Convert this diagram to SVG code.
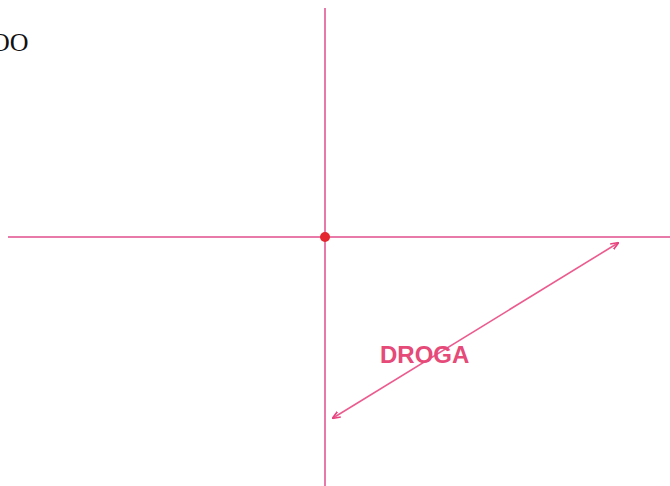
<svg xmlns="http://www.w3.org/2000/svg" width="670" height="486" viewBox="0 0 670 486">
<defs>
<style>
.axis{stroke:#e77aa9;stroke-width:2;fill:none}
.dim{stroke:#ec5b8e;stroke-width:1.6;fill:none}
.lbl{font-family:"Liberation Sans",Arial,sans-serif;font-size:24px;font-weight:bold;fill:#e54a78}
.ttl{font-family:"Liberation Serif","Times New Roman",serif;font-size:26px;fill:#111}
</style>
<marker id="ah" viewBox="0 0 10 10" refX="9" refY="5" markerWidth="8" markerHeight="8" orient="auto-start-reverse" markerUnits="userSpaceOnUse">
<path d="M0,1 L10,5 L0,9" fill="none" stroke="#e8437e" stroke-width="2"/>
</marker>
</defs>
<rect width="670" height="486" fill="#fff"/>
<text class="ttl" x="-9" y="51">OO</text>
<g id="axes">
<line id="axis-v" class="axis" x1="325" y1="8" x2="325" y2="486"/>
<line id="axis-h" class="axis" x1="8" y1="237" x2="670" y2="237"/>
</g>
<g id="origin"><circle cx="325" cy="237" r="5" fill="#e3262f"/></g>
<g id="connectors">
<line class="dim" x1="333" y1="418" x2="618" y2="243" marker-start="url(#ah)" marker-end="url(#ah)"/>
</g>
<g id="label-droga"><text class="lbl" x="380" y="363">DROGA</text></g>
</svg>
